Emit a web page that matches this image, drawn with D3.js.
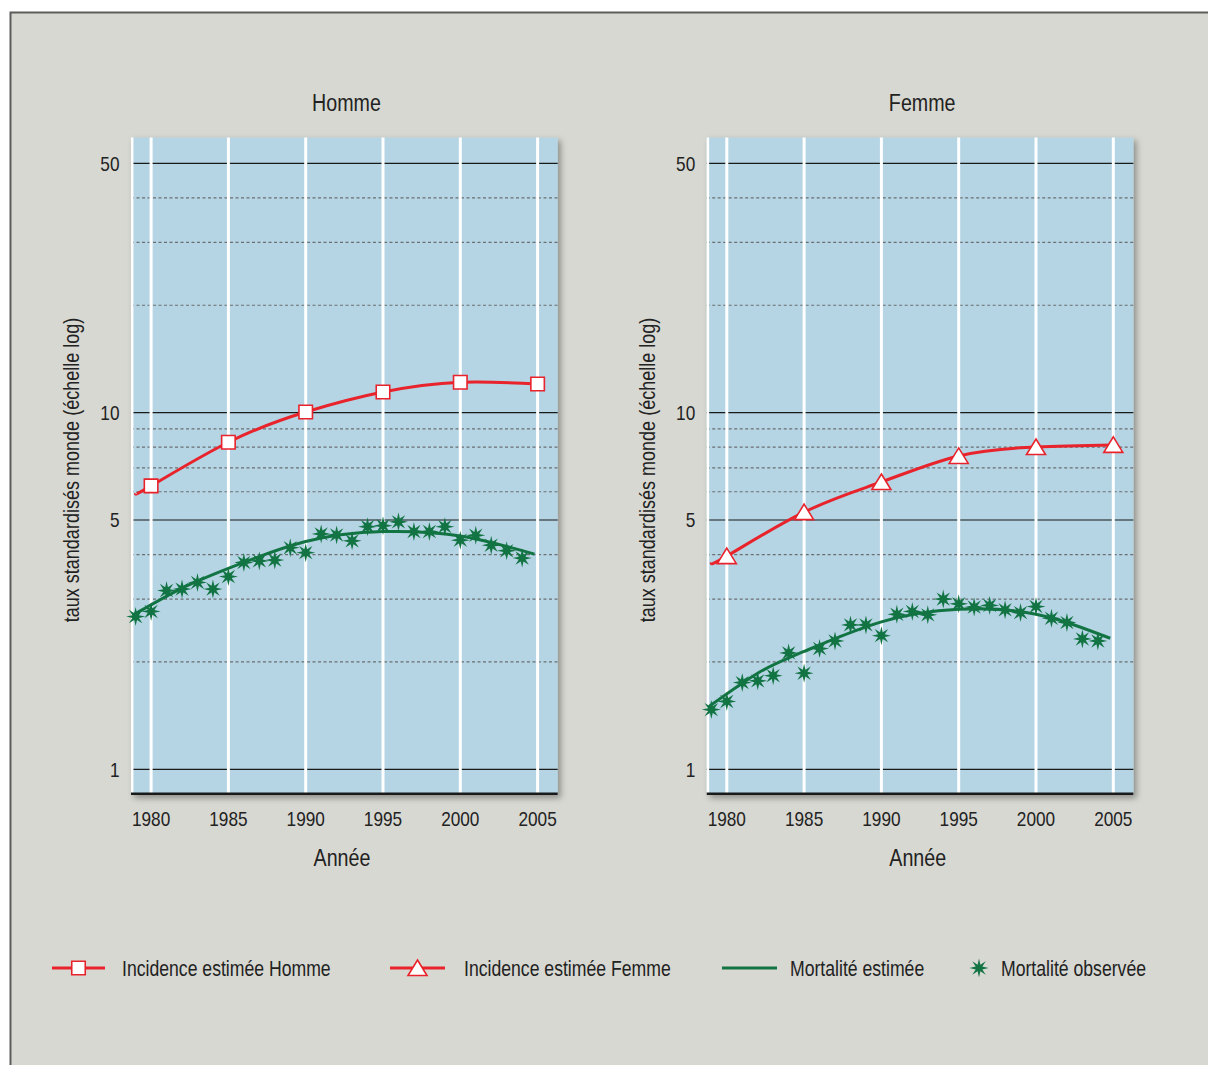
<!DOCTYPE html>
<html>
<head>
<meta charset="utf-8">
<script src="https://cdn.jsdelivr.net/npm/d3@7"></script>
<style>
  html, body { margin: 0; padding: 0; background: #ffffff; }
  svg { display: block; }
  text { font-family: "Liberation Sans", Arial, sans-serif; fill: #222; }
</style>
</head>
<body>
<svg id="chart" width="1208" height="1065"></svg>
<script>
// Five-year estimates (markers)
const markerYears = [1980, 1985, 1990, 1995, 2000, 2005];
const incidenceHommeMarks = [6.23, 8.26, 10.04, 11.42, 12.16, 12.03];
const incidenceFemmeMarks = [3.96, 5.26, 6.39, 7.56, 8.01, 8.12];

// Fitted incidence curves
const incidenceCurveYears = [1979, 1980, 1985, 1990, 1995, 2000, 2005];
const incidenceHommeCurve = [5.93, 6.23, 8.26, 10.04, 11.42, 12.16, 12.03];
const incidenceFemmeCurve = [3.80, 3.96, 5.26, 6.39, 7.56, 8.01, 8.12];

// Observed mortality, yearly
const mortalityYears = d3.range(1979, 2005);
const mortaliteHommeObs = [2.68, 2.77, 3.17, 3.20, 3.34, 3.20, 3.47, 3.80, 3.84, 3.86, 4.18, 4.05, 4.57,
  4.54, 4.37, 4.79, 4.82, 4.94, 4.64, 4.64, 4.79, 4.39, 4.53, 4.25, 4.10, 3.91];
const mortaliteFemmeObs = [1.47, 1.55, 1.75, 1.77, 1.83, 2.12, 1.86, 2.18, 2.29, 2.54, 2.54, 2.37, 2.72,
  2.77, 2.71, 3.00, 2.91, 2.85, 2.88, 2.80, 2.75, 2.86, 2.65, 2.58, 2.32, 2.29];

// Fitted mortality curves
const mortalityCurveYears = [1978.85, 1982, 1985, 1990, 1995, 2000, 2004.8];
const mortaliteHommeCurve = [2.71, 3.22, 3.66, 4.35, 4.64, 4.51, 4.01];
const mortaliteFemmeCurve = [1.50, 1.86, 2.14, 2.59, 2.81, 2.72, 2.33];

// Axis ticks
const xTicks = [1980, 1985, 1990, 1995, 2000, 2005];
const yMajorTicks = [1, 5, 10, 50];
const yMinorTicks = [2, 3, 4, 6, 7, 8, 9, 20, 30, 40];

const panelTitles = ["Homme", "Femme"];
const legendLabels = ["Incidence estimée Homme", "Incidence estimée Femme", "Mortalité estimée", "Mortalité observée"];

const RED = "#e8232b";
const GREEN = "#127443";
const NARROW = 0.82; // horizontal squeeze for a condensed look

const svg = d3.select("#chart");
const defs = svg.append("defs");
const shadow = defs.append("filter").attr("id", "shadow")
  .attr("x", "-5%").attr("y", "-5%").attr("width", "115%").attr("height", "115%");
shadow.append("feDropShadow").attr("dx", 3).attr("dy", 3).attr("stdDeviation", 3)
  .attr("flood-color", "#000").attr("flood-opacity", 0.35);

// condensed text helper
function label(parent, x, y, str, size, anchor = "start", rotate = 0) {
  return parent.append("text")
    .attr("transform", `translate(${x},${y}) rotate(${rotate}) scale(${NARROW},1)`)
    .attr("text-anchor", anchor).attr("font-size", size).text(str);
}

// Frame background
svg.append("rect").attr("x", 10).attr("y", 12).attr("width", 1210).attr("height", 1070)
  .attr("fill", "#d8d8d2");
svg.append("path").attr("d", "M10.5,1065 V12.5 H1208")
  .attr("fill", "none").attr("stroke", "#5c5c5a").attr("stroke-width", 2);

const x = d3.scaleLinear().domain([1978.7, 2006.3]).range([131, 557.7]);
const y = d3.scaleLog().domain([1, 50]).range([769.3, 163.3]);
const plotTop = 137.5, plotBottom = 795;

function star(r, r2) {
  const pts = [];
  for (let i = 0; i < 16; i++) {
    const a = i * Math.PI / 8 - Math.PI / 2;
    const rr = i % 2 === 0 ? r : r2;
    pts.push([Math.cos(a) * rr, Math.sin(a) * rr]);
  }
  return "M" + pts.map(p => p[0].toFixed(2) + "," + p[1].toFixed(2)).join("L") + "Z";
}
const starPath = star(9.5, 3.6);
const squareSize = 13.5;
const squarePath = `M${-squareSize / 2},${-squareSize / 2}h${squareSize}v${squareSize}h${-squareSize}Z`;
const trianglePath = "M0,-8 L9.5,7.5 L-9.5,7.5 Z";

const line = d3.line().x(d => x(d[0])).y(d => y(d[1])).curve(d3.curveNatural);

const panels = [
  { dx: 0, title: panelTitles[0], incCurve: incidenceHommeCurve, incMarks: incidenceHommeMarks, marker: squarePath,
    mortCurve: mortaliteHommeCurve, mortObs: mortaliteHommeObs },
  { dx: 575.7, title: panelTitles[1], incCurve: incidenceFemmeCurve, incMarks: incidenceFemmeMarks, marker: trianglePath,
    mortCurve: mortaliteFemmeCurve, mortObs: mortaliteFemmeObs }
];

panels.forEach(p => {
  const g = svg.append("g").attr("transform", `translate(${p.dx},0)`);
  const x0 = x.range()[0], x1 = x.range()[1];

  // plot background with shadow
  g.append("rect").attr("x", x0).attr("y", plotTop).attr("width", x1 - x0).attr("height", plotBottom - plotTop)
    .attr("fill", "#b5d4e4").attr("filter", "url(#shadow)");

  // horizontal gridlines
  g.selectAll(".minor").data(yMinorTicks).join("line")
    .attr("x1", x0).attr("x2", x1).attr("y1", d => y(d)).attr("y2", d => y(d))
    .attr("stroke", "#6b6f72").attr("stroke-width", 1.2).attr("stroke-dasharray", "3,2.5");
  g.selectAll(".major").data(yMajorTicks).join("line")
    .attr("x1", x0).attr("x2", x1).attr("y1", d => y(d)).attr("y2", d => y(d))
    .attr("stroke", "#1a1a1a").attr("stroke-width", 1.2);

  // vertical white gridlines
  g.selectAll(".vgrid").data(xTicks).join("line")
    .attr("x1", d => x(d)).attr("x2", d => x(d)).attr("y1", plotTop).attr("y2", plotBottom)
    .attr("stroke", "#ffffff").attr("stroke-width", 3);
  g.append("line").attr("x1", x0 + 1.2).attr("x2", x0 + 1.2).attr("y1", plotTop).attr("y2", plotBottom)
    .attr("stroke", "#ffffff").attr("stroke-width", 2.5);

  // bottom axis line
  g.append("line").attr("x1", x0).attr("x2", x1).attr("y1", plotBottom - 1.2).attr("y2", plotBottom - 1.2)
    .attr("stroke", "#1a1a1a").attr("stroke-width", 2.6);

  // tick labels
  xTicks.forEach(t => label(g, x(t), 826, t, 21, "middle"));
  yMajorTicks.forEach(t => label(g, 119.5, y(t) + 7.5, t, 21, "end"));

  // titles
  label(g, 346.5, 111, p.title, 24, "middle");
  label(g, 342, 866, "Année", 24, "middle");
  label(g, 79, 470, "taux standardisés monde (échelle log)", 22, "middle", -90);

  // mortality: fitted curve and observations
  g.append("path").datum(mortalityCurveYears.map((yr, i) => [yr, p.mortCurve[i]]))
    .attr("d", line).attr("fill", "none").attr("stroke", GREEN).attr("stroke-width", 3);
  g.selectAll(".obs").data(mortalityYears.map((yr, i) => [yr, p.mortObs[i]])).join("path")
    .attr("transform", d => `translate(${x(d[0])},${y(d[1])})`)
    .attr("d", starPath).attr("fill", GREEN);

  // incidence: fitted curve and 5-year markers
  g.append("path").datum(incidenceCurveYears.map((yr, i) => [yr, p.incCurve[i]]))
    .attr("d", line).attr("fill", "none").attr("stroke", RED).attr("stroke-width", 3);
  g.selectAll(".mk").data(markerYears.map((yr, i) => [yr, p.incMarks[i]])).join("path")
    .attr("transform", d => `translate(${x(d[0])},${y(d[1])})`)
    .attr("d", p.marker)
    .attr("fill", "#fff").attr("stroke", RED).attr("stroke-width", 1.6);
});

// legend
const lg = svg.append("g");
const ly = 968;
lg.append("line").attr("x1", 52).attr("x2", 105).attr("y1", ly).attr("y2", ly).attr("stroke", RED).attr("stroke-width", 3);
lg.append("path").attr("transform", `translate(78.5,${ly})`).attr("d", squarePath)
  .attr("fill", "#fff").attr("stroke", RED).attr("stroke-width", 1.6);
label(lg, 122, ly + 8, legendLabels[0], 21.5);

lg.append("line").attr("x1", 390).attr("x2", 445).attr("y1", ly).attr("y2", ly).attr("stroke", RED).attr("stroke-width", 3);
lg.append("path").attr("transform", `translate(417.5,${ly})`).attr("d", trianglePath)
  .attr("fill", "#fff").attr("stroke", RED).attr("stroke-width", 1.6);
label(lg, 464, ly + 8, legendLabels[1], 21.5);

lg.append("line").attr("x1", 722).attr("x2", 777).attr("y1", ly).attr("y2", ly).attr("stroke", GREEN).attr("stroke-width", 3);
label(lg, 790, ly + 8, legendLabels[2], 21.5);

lg.append("path").attr("transform", `translate(979,${ly})`).attr("d", starPath).attr("fill", GREEN);
label(lg, 1001, ly + 8, legendLabels[3], 21.5);
</script>
</body>
</html>
